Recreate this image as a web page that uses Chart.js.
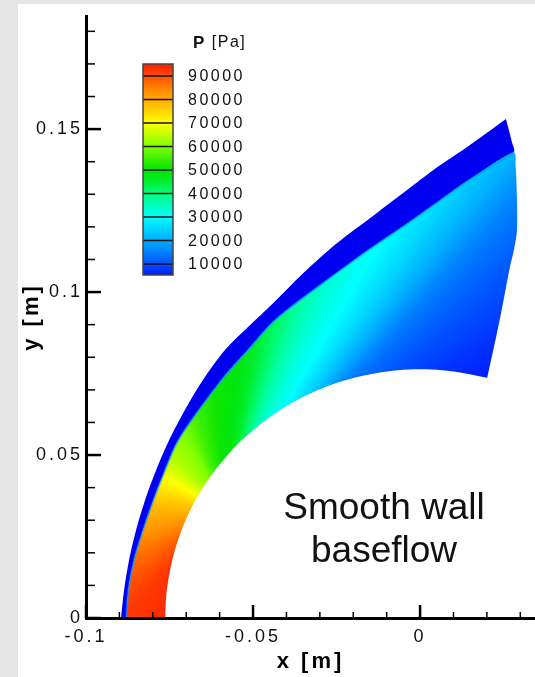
<!DOCTYPE html>
<html>
<head>
<meta charset="utf-8">
<script src="https://cdn.jsdelivr.net/npm/chart.js@4.4.1/dist/chart.umd.min.js"></script>
<style>
  html, body { margin: 0; padding: 0; background: #e5e5e5; }
  canvas { display: block; }
</style>
</head>
<body>
<canvas id="campo" width="535" height="677"></canvas>
<script>
// Límites de los ejes (m)
const xMin = -0.1, xMax = 0.0344;
const yMin = 0, yMax = 0.1847;
const xMajorTicks = [-0.1, -0.05, 0];
const xMinorTicks = [-0.09, -0.08, -0.07, -0.06, -0.04, -0.03, -0.02, -0.01, 0.01, 0.02, 0.03];
const yMajorTicks = [0, 0.05, 0.1, 0.15];
const yMinorTicks = [0.01, 0.02, 0.03, 0.04, 0.06, 0.07, 0.08, 0.09, 0.11, 0.12, 0.13, 0.14, 0.16, 0.17, 0.18];

// Contorno exterior del dominio
const outerX = [-0.0895, -0.0886, -0.0871, -0.0850, -0.0823, -0.0790, -0.0751, -0.0704, -0.0650, -0.0584, -0.0515, -0.0440, -0.0350, -0.0249, -0.0138, -0.0039, 0.0039, 0.0141, 0.0257];
const outerY = [0.0000, 0.0086, 0.0178, 0.0270, 0.0362, 0.0454, 0.0546, 0.0638, 0.0730, 0.0822, 0.0893, 0.0966, 0.1058, 0.1150, 0.1236, 0.1313, 0.1374, 0.1445, 0.1531];

// Onda de choque
const shockX = [-0.0879, -0.0873, -0.0856, -0.0829, -0.0798, -0.0763, -0.0728, -0.0677, -0.0587, -0.0515, -0.0443, -0.0389, -0.0278, -0.0150, -0.0045, 0.0045, 0.0141, 0.0280];
const shockY = [0.0000, 0.0086, 0.0178, 0.0270, 0.0362, 0.0454, 0.0537, 0.0617, 0.0739, 0.0822, 0.0905, 0.0952, 0.1037, 0.1132, 0.1205, 0.1270, 0.1340, 0.1429];

// Frontera de salida (de arriba a abajo)
const exitX = [0.0257, 0.0275, 0.0286, 0.0290, 0.0290, 0.0281, 0.0269, 0.0240, 0.0201];
const exitY = [0.1531, 0.1460, 0.1390, 0.1282, 0.1190, 0.1130, 0.1077, 0.0923, 0.0737];

// Pared del cuerpo
const bodyX = [-0.0763, -0.0760, -0.0751, -0.0737, -0.0717, -0.0692, -0.0661, -0.0625, -0.0584, -0.0540, -0.0490, -0.0438, -0.0382, -0.0322, -0.0261, -0.0197, -0.0132, -0.0067, 0.0000, 0.0067, 0.0132, 0.0201];
const bodyY = [0.0000, 0.0067, 0.0132, 0.0197, 0.0261, 0.0322, 0.0382, 0.0438, 0.0490, 0.0540, 0.0584, 0.0625, 0.0661, 0.0692, 0.0717, 0.0737, 0.0751, 0.0760, 0.0763, 0.0760, 0.0751, 0.0737];

// Presión en la capa de choque: isobaras en abanico alrededor de este punto
const isoCenter = [-0.0584, 0.0331];
const fanAngle = [25, 33, 40, 44, 47, 51, 55, 60, 65, 70, 75, 80, 85, 95, 107, 118, 135, 152, 170, 197, 212, 225, 245];
const fanP = [4500, 7500, 10500, 13000, 15500, 21000, 25500, 30000, 33000, 37000, 42000, 46000, 48500, 51000, 55000, 60000, 64000, 70000, 76000, 83000, 88000, 92000, 94000];
const freestreamColor = '#0000f0';

// Escala de colores
const cmapP = [5000, 10000, 15000, 20000, 25000, 30000, 35000, 40000, 45000, 50000, 55000, 60000, 65000, 70000, 75000, 80000, 85000, 90000, 95000];
const cmapColor = ['#0018ff', '#0050ff', '#0080ff', '#00aaff', '#00d5ff', '#00ffff', '#00ffbf', '#00ff80', '#00ee30', '#00e400', '#40f000', '#80ff00', '#bfff00', '#ffff00', '#ffd500', '#ffaa00', '#ff8000', '#ff5000', '#ff1a00'];
const legendLevels = [90000, 80000, 70000, 60000, 50000, 40000, 30000, 20000, 10000];

const noteLines = ['Smooth wall', 'baseflow'];
const notePos = [-0.0108, 0.0304];

const FONT = "'Liberation Sans', Arial, Helvetica, sans-serif";

function hexToRgb(h) {
    return [parseInt(h.slice(1, 3), 16), parseInt(h.slice(3, 5), 16), parseInt(h.slice(5, 7), 16)];
}

function pToColor(p) {
    if (p <= cmapP[0]) return cmapColor[0];
    for (let i = 1; i < cmapP.length; i++) {
        if (p <= cmapP[i]) {
            const t = (p - cmapP[i - 1]) / (cmapP[i] - cmapP[i - 1]);
            const a = hexToRgb(cmapColor[i - 1]), b = hexToRgb(cmapColor[i]);
            const c = a.map((v, k) => Math.round(v + (b[k] - v) * t));
            return `rgb(${c[0]}, ${c[1]}, ${c[2]})`;
        }
    }
    return cmapColor[cmapColor.length - 1];
}

const pts = (xs, ys) => xs.map((x, i) => ({ x, y: ys[i] }));

// Polígonos de las regiones
const shockEndY = shockY[shockY.length - 1];
const freestreamPoly = [
    ...pts(outerX, outerY),
    ...pts(exitX, exitY).filter(p => p.y > shockEndY),
    ...pts(shockX, shockY).reverse()
];
const layerPoly = [
    ...pts(shockX, shockY),
    ...pts(exitX, exitY).filter(p => p.y < shockEndY),
    ...pts(bodyX, bodyY).reverse()
];

// Degradado cónico de presión en píxeles del gráfico
function fieldGradient(context) {
    const chart = context.chart;
    const { x, y } = chart.scales;
    if (!chart.chartArea || !x || !y) return pToColor(50000);
    const cx = x.getPixelForValue(isoCenter[0]);
    const cy = y.getPixelForValue(isoCenter[1]);
    const a0 = fanAngle[fanAngle.length - 1];
    const g = chart.ctx.createConicGradient(-a0 * Math.PI / 180, cx, cy);
    for (let i = fanAngle.length - 1; i >= 0; i--) {
        g.addColorStop((a0 - fanAngle[i]) / 360, pToColor(fanP[i]));
    }
    return g;
}

const fondo = {
    id: 'fondo',
    beforeDraw(chart) {
        const ctx = chart.ctx;
        ctx.save();
        ctx.fillStyle = '#e5e5e5';
        ctx.fillRect(0, 0, chart.width, chart.height);
        ctx.fillStyle = '#ffffff';
        ctx.fillRect(18, 4, chart.width - 18, chart.height - 4);
        ctx.restore();
        ctx.letterSpacing = '3px';
    },
    beforeDatasetsDraw(chart) {
        chart.ctx.letterSpacing = '0px';
    }
};

// Marcas de los ejes hacia dentro
const marcas = {
    id: 'marcas',
    afterDatasetsDraw(chart) {
        const { ctx, scales: { x, y } } = chart;
        const x0 = x.getPixelForValue(xMin), y0 = y.getPixelForValue(yMin);
        ctx.save();
        ctx.strokeStyle = '#000';
        const draw = (vals, len, w, horiz) => {
            ctx.lineWidth = w;
            vals.forEach(v => {
                ctx.beginPath();
                if (horiz) {
                    const px = x.getPixelForValue(v);
                    ctx.moveTo(px, y0);
                    ctx.lineTo(px, y0 - len);
                } else {
                    const py = y.getPixelForValue(v);
                    ctx.moveTo(x0, py);
                    ctx.lineTo(x0 + len, py);
                }
                ctx.stroke();
            });
        };
        draw(xMajorTicks, 13, 2.5, true);
        draw(xMinorTicks, 6, 1.5, true);
        draw(yMajorTicks, 15, 2.5, false);
        draw(yMinorTicks, 9, 1.5, false);
        ctx.restore();
    }
};

// Barra de colores
const leyenda = {
    id: 'leyenda',
    afterDraw(chart) {
        const ctx = chart.ctx;
        const bx = 143, bw = 30, top = 64, bottom = 275;
        const levelY = v => 76 + (90000 - v) / 10000 * 23.5;
        ctx.save();
        ctx.letterSpacing = '0px';
        const g = ctx.createLinearGradient(0, top, 0, bottom);
        cmapP.forEach((p, i) => {
            const off = (levelY(p) - top) / (bottom - top);
            if (off >= 0 && off <= 1) g.addColorStop(off, cmapColor[i]);
        });
        g.addColorStop(0, pToColor(95100));
        g.addColorStop(1, pToColor(5300));
        ctx.fillStyle = g;
        ctx.fillRect(bx, top, bw, bottom - top);
        ctx.strokeStyle = '#111';
        ctx.lineWidth = 1.5;
        legendLevels.forEach(v => {
            const py = levelY(v);
            ctx.beginPath();
            ctx.moveTo(bx, py);
            ctx.lineTo(bx + bw, py);
            ctx.stroke();
        });
        ctx.strokeStyle = '#444';
        ctx.strokeRect(bx, top, bw, bottom - top);

        ctx.fillStyle = '#111';
        ctx.textBaseline = 'middle';
        ctx.textAlign = 'left';
        ctx.letterSpacing = '2.5px';
        ctx.font = `16px ${FONT}`;
        legendLevels.forEach(v => ctx.fillText(String(v), 188, levelY(v) + 1));

        ctx.letterSpacing = '1.5px';
        ctx.font = `bold 17px ${FONT}`;
        ctx.fillText('P', 193, 43);
        const w = ctx.measureText('P').width;
        ctx.font = `16px ${FONT}`;
        ctx.fillText(' [Pa]', 193 + w, 43);
        ctx.restore();
    }
};

// Texto del caso
const nota = {
    id: 'nota',
    afterDraw(chart) {
        const { ctx, scales: { x, y } } = chart;
        const px = x.getPixelForValue(notePos[0]);
        const py = y.getPixelForValue(notePos[1]);
        ctx.save();
        ctx.letterSpacing = '0px';
        ctx.font = `37px ${FONT}`;
        ctx.fillStyle = '#111';
        ctx.textAlign = 'center';
        ctx.textBaseline = 'alphabetic';
        noteLines.forEach((t, i) => ctx.fillText(t, px, py + i * 43));
        ctx.restore();
    }
};

const tickFont = { family: FONT, size: 18 };
const titleFont = { family: FONT, size: 22, weight: 'bold' };

new Chart(document.getElementById('campo'), {
    type: 'line',
    data: {
        datasets: [
            {
                label: 'shock',
                data: pts(shockX, shockY),
                borderColor: 'rgba(0, 150, 255, 0.6)',
                borderWidth: 2,
                tension: 0.3,
                pointRadius: 0,
                fill: false
            },
            {
                label: 'P',
                data: layerPoly,
                borderColor: 'rgba(0,0,0,0)',
                borderWidth: 0,
                tension: 0.3,
                pointRadius: 0,
                backgroundColor: fieldGradient,
                fill: 'shape'
            },
            {
                label: 'freestream',
                data: freestreamPoly,
                borderColor: 'rgba(0,0,0,0)',
                borderWidth: 0,
                tension: 0.3,
                pointRadius: 0,
                backgroundColor: freestreamColor,
                fill: 'shape'
            }
        ]
    },
    options: {
        responsive: false,
        devicePixelRatio: 1,
        animation: false,
        events: [],
        layout: { autoPadding: false, padding: { top: 16, left: 0, right: 0, bottom: 0 } },
        plugins: { legend: { display: false }, tooltip: { enabled: false } },
        scales: {
            x: {
                type: 'linear',
                min: xMin,
                max: xMax,
                afterFit: s => { s.height = 59; },
                afterBuildTicks: s => { s.ticks = xMajorTicks.map(v => ({ value: v })); },
                grid: { display: false, drawTicks: false },
                border: { display: true, color: '#000', width: 3, z: 1 },
                ticks: { color: '#111', font: tickFont, padding: 8, maxRotation: 0, autoSkip: false, callback: v => String(v) },
                title: { display: true, text: 'x [m]', color: '#000', font: titleFont, padding: { top: 0, bottom: 2 } }
            },
            y: {
                type: 'linear',
                min: yMin,
                max: yMax,
                afterFit: s => { s.width = 86; },
                afterBuildTicks: s => { s.ticks = yMajorTicks.map(v => ({ value: v })); },
                grid: { display: false, drawTicks: false },
                border: { display: true, color: '#000', width: 3, z: 1 },
                ticks: { color: '#111', font: tickFont, padding: 3, autoSkip: false, callback: v => String(v) },
                title: { display: true, text: 'y [m]', color: '#000', font: titleFont, padding: { top: 19, bottom: 0 } }
            }
        }
    },
    plugins: [fondo, marcas, leyenda, nota]
});
</script>
</body>
</html>
